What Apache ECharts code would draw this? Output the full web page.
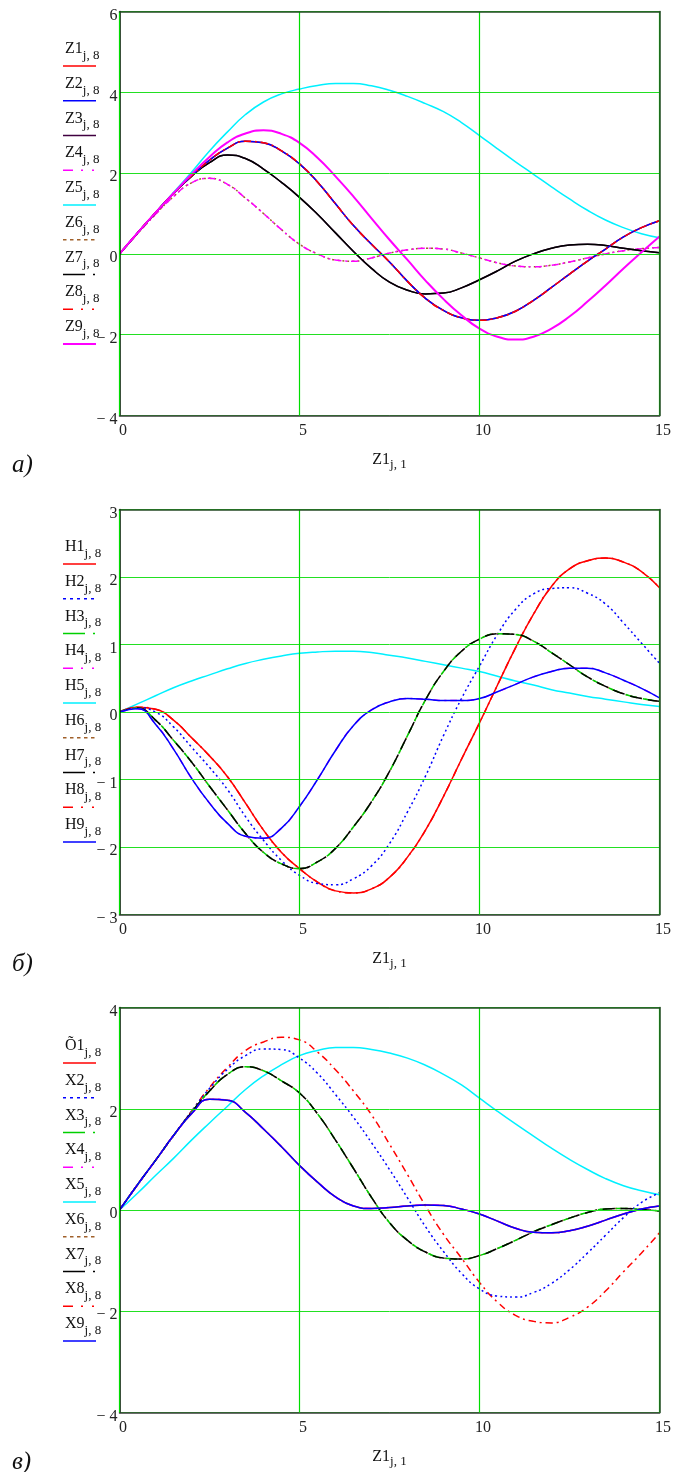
<!DOCTYPE html>
<html><head><meta charset="utf-8">
<script src="https://cdn.jsdelivr.net/npm/echarts@6/dist/echarts.min.js"></script>
<style>html,body{margin:0;padding:0;background:#fff}#c{width:674px;height:1472px}</style>
</head><body><div id="c"></div>
<script>
// ---- shared x samples (Z1_{j,1}) ----
const X = [0,0.5,1,1.5,2,2.5,3,3.5,4,4.5,5,5.5,6,6.5,7,7.5,8,8.5,9,9.5,10,10.5,11,11.5,12,12.5,13,13.5,14,14.5,15];
const xTicks = [0,5,10,15];

// ---- chart a) ----
const A_Z128 = [0,0.52,1.02,1.5,1.93,2.32,2.62,2.79,2.75,2.55,2.23,1.78,1.24,0.7,0.24,-0.2,-0.68,-1.1,-1.4,-1.58,-1.64,-1.58,-1.42,-1.15,-0.83,-0.5,-0.18,0.12,0.42,0.65,0.82];
const A_Z9   = [0,0.52,1.02,1.5,1.97,2.4,2.76,2.98,3.06,2.97,2.75,2.38,1.92,1.42,0.88,0.35,-0.15,-0.66,-1.12,-1.52,-1.85,-2.05,-2.12,-2.05,-1.85,-1.55,-1.18,-0.78,-0.36,0.04,0.43];
const A_Z37  = [0,0.52,1.02,1.5,1.92,2.26,2.45,2.36,2.1,1.77,1.4,0.98,0.52,0.06,-0.36,-0.7,-0.9,-0.99,-0.97,-0.84,-0.64,-0.42,-0.18,0.0,0.14,0.22,0.24,0.21,0.14,0.08,0.03];
const A_Z46  = [0,0.5,0.98,1.42,1.76,1.87,1.72,1.38,1.0,0.6,0.24,0.0,-0.15,-0.18,-0.1,0.02,0.1,0.14,0.12,0.02,-0.1,-0.22,-0.3,-0.32,-0.28,-0.2,-0.1,0.0,0.08,0.13,0.16];
const A_Z5   = [0,0.52,1.02,1.52,2.02,2.55,3.02,3.45,3.76,3.96,4.08,4.17,4.22,4.22,4.16,4.05,3.9,3.72,3.52,3.25,2.93,2.6,2.28,1.97,1.66,1.36,1.08,0.84,0.65,0.5,0.4];
const yTicksA = [-4,-2,0,2,4,6];

// ---- chart б) ----
const B_H18  = [0,0.07,0.04,-0.12,-0.38,-0.65,-0.96,-1.35,-1.75,-2.08,-2.32,-2.52,-2.65,-2.68,-2.62,-2.45,-2.15,-1.75,-1.25,-0.7,-0.16,0.4,0.95,1.45,1.86,2.12,2.24,2.28,2.22,2.08,1.84];
const B_H2   = [0,0.06,0.0,-0.22,-0.52,-0.82,-1.15,-1.55,-1.9,-2.2,-2.42,-2.54,-2.56,-2.47,-2.28,-1.95,-1.48,-0.95,-0.35,0.2,0.68,1.15,1.52,1.75,1.83,1.84,1.76,1.6,1.32,1.02,0.72];
const B_H367 = [0,0.06,-0.12,-0.42,-0.74,-1.1,-1.45,-1.8,-2.08,-2.25,-2.32,-2.22,-2.02,-1.7,-1.33,-0.88,-0.35,0.18,0.6,0.9,1.08,1.16,1.15,1.05,0.88,0.7,0.52,0.38,0.27,0.2,0.16];
const B_H49  = [0,0.05,-0.18,-0.55,-0.98,-1.35,-1.65,-1.84,-1.87,-1.72,-1.4,-1.0,-0.57,-0.2,0.03,0.15,0.2,0.19,0.17,0.17,0.2,0.3,0.41,0.52,0.6,0.65,0.65,0.58,0.47,0.35,0.21];
const B_H5   = [0,0.12,0.24,0.36,0.46,0.55,0.64,0.72,0.78,0.83,0.87,0.89,0.9,0.9,0.88,0.84,0.8,0.75,0.7,0.65,0.6,0.53,0.46,0.4,0.33,0.28,0.23,0.19,0.15,0.11,0.08];
const yTicksB = [-3,-2,-1,0,1,2,3];

// ---- chart в) ----
const C_X149 = [0,0.5,0.98,1.47,1.9,2.19,2.17,1.93,1.6,1.25,0.88,0.55,0.26,0.08,0.03,0.05,0.08,0.1,0.09,0.02,-0.08,-0.22,-0.36,-0.44,-0.45,-0.41,-0.32,-0.2,-0.08,0.02,0.08];
const C_X8   = [0,0.5,0.98,1.47,1.95,2.42,2.82,3.15,3.32,3.41,3.36,3.12,2.77,2.35,1.88,1.3,0.7,0.08,-0.48,-0.95,-1.43,-1.82,-2.08,-2.2,-2.23,-2.12,-1.92,-1.6,-1.22,-0.85,-0.45];
const C_X2   = [0,0.5,0.98,1.47,1.95,2.4,2.78,3.05,3.18,3.17,3.0,2.7,2.28,1.83,1.33,0.8,0.24,-0.33,-0.82,-1.25,-1.56,-1.7,-1.72,-1.63,-1.45,-1.18,-0.85,-0.5,-0.15,0.15,0.34];
const C_X367 = [0,0.5,0.98,1.47,1.93,2.35,2.68,2.83,2.75,2.55,2.31,1.9,1.38,0.82,0.25,-0.25,-0.6,-0.83,-0.95,-0.97,-0.9,-0.76,-0.6,-0.43,-0.29,-0.16,-0.05,0.02,0.03,0.01,-0.02];
const C_X5   = [0,0.33,0.68,1.02,1.38,1.72,2.05,2.38,2.65,2.87,3.05,3.15,3.21,3.21,3.17,3.1,3.0,2.86,2.68,2.47,2.21,1.95,1.7,1.46,1.22,1.0,0.8,0.62,0.48,0.38,0.3];
const yTicksC = [-4,-2,0,2,4];

// ---- legend names ----
const namesA = ['Z1','Z2','Z3','Z4','Z5','Z6','Z7','Z8','Z9'];
const namesB = ['H1','H2','H3','H4','H5','H6','H7','H8','H9'];
const namesC = ['\u00D51','X2','X3','X4','X5','X6','X7','X8','X9'];
const panelLetters = ['a)','\u0431)','\u0432)'];

// ---------------- styling ----------------
const FONT = '"Liberation Serif","Times New Roman",serif';
const RED='#ff0000', BLUE='#0000ff', GREEN='#00d000', MAG='#ff00ff', CYAN='#00f0ff', BROWN='#a0602a', BLACK='#000000', DPUR='#400040';
const DOT=[2,3], DASH=[12,6], DASHDOT=[7,4,2,4];
const GRIDC = '#22e022', FRAME = '#264a26';

const grids = [
  {top:11.5,  height:404, min:-4, max:6, interval:2},
  {top:509.5, height:405, min:-3, max:3, interval:1},
  {top:1007.5,height:405, min:-4, max:4, interval:2}
];
const PLOT_L = 119.5, PLOT_R = 659.5;

const panels = [
  [ [4,A_Z5,CYAN,'solid',1.5], [5,A_Z46,BROWN,DOT,1.5], [3,A_Z46,MAG,DASHDOT,1.5],
    [2,A_Z37,DPUR,'solid',1.5], [6,A_Z37,BLACK,'solid',1.5],
    [0,A_Z128,RED,'solid',1.5], [1,A_Z128,BLUE,'solid',1.5], [7,A_Z128,RED,DASHDOT,1.5],
    [8,A_Z9,MAG,'solid',2] ],
  [ [4,B_H5,CYAN,'solid',1.5], [0,B_H18,RED,'solid',1.5], [7,B_H18,RED,DASHDOT,1.5],
    [1,B_H2,BLUE,DOT,1.5], [5,B_H367,BROWN,DOT,1.5], [2,B_H367,GREEN,DASH,1.5,5], [6,B_H367,BLACK,DASH,1.5],
    [3,B_H49,MAG,DASHDOT,1.5], [8,B_H49,BLUE,'solid',1.5] ],
  [ [4,C_X5,CYAN,'solid',1.5], [0,C_X149,RED,'solid',1.5], [7,C_X8,RED,DASHDOT,1.5],
    [1,C_X2,BLUE,DOT,1.5], [5,C_X367,BROWN,DOT,1.5], [2,C_X367,GREEN,DASH,1.5,5], [6,C_X367,BLACK,DASH,1.5],
    [3,C_X149,MAG,DASHDOT,1.5], [8,C_X149,BLUE,'solid',1.5] ]
];
const panelNames = [namesA, namesB, namesC];

const LD = [10,8,2,9,2,100];
const legendStyles = [
  [[RED,null],[BLUE,null],[DPUR,null],[MAG,LD],[CYAN,null],[BROWN,[3.5,3.5]],[BLACK,[22,8,2,100]],[RED,LD],[MAG,null,2]],
  [[RED,null],[BLUE,[3,4]],[GREEN,[22,8,2,100]],[MAG,LD],[CYAN,null],[BROWN,[3.5,3.5]],[BLACK,[22,8,2,100]],[RED,LD],[BLUE,null]],
  [[RED,null],[BLUE,[3,4]],[GREEN,[22,8,2,100]],[MAG,LD],[CYAN,null],[BROWN,[3.5,3.5]],[BLACK,[22,8,2,100]],[RED,LD],[BLUE,null]]
];
const legendFirstLine = [66, 564, 1063];
const LEG_STEP = 34.75;

const fmt = v => v < 0 ? '\u2212 ' + Math.abs(v) : String(v);

const cv = document.createElement('canvas').getContext('2d');
function tw(s, size){ cv.font = size + 'px ' + FONT; return cv.measureText(s).width; }

const option = { animation:false, backgroundColor:'#fff', grid:[], xAxis:[], yAxis:[], series:[], graphic:[] };
const extraX = [], extraY = [];

grids.forEach((g, gi) => {
  option.grid.push({ left:PLOT_L, width:PLOT_R-PLOT_L, top:g.top, height:g.height, show:false });
  option.xAxis.push({ type:'value', gridIndex:gi, min:0, max:15, interval:5,
    axisLine:{show:true, onZero:false, lineStyle:{color:'#3a3a3a', width:1.5}},
    axisTick:{show:false},
    splitLine:{show:false},
    axisLabel:{color:'#222', fontFamily:FONT, fontSize:16, margin:7, padding:[0,0,0,7], formatter:fmt}, z:4 });
  option.yAxis.push({ type:'value', gridIndex:gi, min:g.min, max:g.max, interval:g.interval,
    axisLine:{show:true, onZero:false, lineStyle:{color:'#000', width:1.5}},
    axisTick:{show:false},
    splitLine:{show:true, lineStyle:{color:GRIDC, width:1}},
    axisLabel:{color:'#222', fontFamily:FONT, fontSize:16, margin:2, verticalAlign:'top', lineHeight:8, formatter:fmt}, z:4 });
  extraX.push({ type:'value', gridIndex:gi, position:'top', min:0, max:15, interval:5,
    axisLine:{show:true, onZero:false, lineStyle:{color:FRAME, width:1.5}}, axisTick:{show:false},
    axisLabel:{show:false}, splitLine:{show:true, lineStyle:{color:'#00dd00', width:1.2, opacity:1}}, z:5 });
  extraY.push({ type:'value', gridIndex:gi, position:'right', min:g.min, max:g.max, interval:g.interval,
    axisLine:{show:true, onZero:false, lineStyle:{color:FRAME, width:1.5}}, axisTick:{show:false},
    axisLabel:{show:false}, splitLine:{show:false}, z:5 });

  panels[gi].forEach(s => {
    const [ni, arr, color, type, width, off] = s;
    option.series.push({
      type:'line', name: panelNames[gi][ni], xAxisIndex:gi, yAxisIndex:gi,
      data: X.map((x,i)=>[x, arr[i]]), showSymbol:false, symbol:'none', smooth:0.5,
      lineStyle:{color, width, type, dashOffset: off||0, cap:'butt'}, z:2
    });
  });

  const names = panelNames[gi];
  names.forEach((nm, i) => {
    const ly = legendFirstLine[gi] + i*LEG_STEP;
    const st = legendStyles[gi][i];
    const w = tw(nm, 16);
    option.graphic.push({ type:'text', left:65, top: ly-25, style:{ text:nm, font:'16px '+FONT, fill:'#111' } });
    option.graphic.push({ type:'text', left:65+w, top: ly-17, style:{ text:'j, 8', font:'13px '+FONT, fill:'#111' } });
    option.graphic.push({ type:'line', shape:{x1:63, y1:ly, x2:96, y2:ly},
      style:{ stroke:st[0], lineWidth: st[2]||1.5, lineDash: st[1]||null } });
  });

  const bottom = g.top + g.height;
  const mw = tw('Z1', 16), sw = tw('j, 1', 13);
  const cx = (PLOT_L + PLOT_R)/2 - (mw+sw)/2;
  option.graphic.push({ type:'text', left:cx, top: bottom+36, style:{ text:'Z1', font:'16px '+FONT, fill:'#111' } });
  option.graphic.push({ type:'text', left:cx+mw, top: bottom+43, style:{ text:'j, 1', font:'13px '+FONT, fill:'#111' } });

  option.graphic.push({ type:'text', left:12, top: bottom+37, style:{ text:panelLetters[gi], font:'italic 25px '+FONT, fill:'#111' } });
});
option.xAxis = option.xAxis.concat(extraX);
option.yAxis = option.yAxis.concat(extraY);

const chart = echarts.init(document.getElementById('c'));
chart.setOption(option);
</script>
</body></html>
